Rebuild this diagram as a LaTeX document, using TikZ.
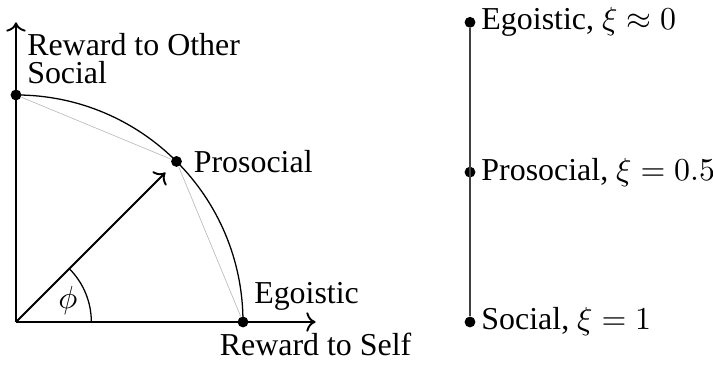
\documentclass[tikz,border=0pt]{standalone}
\usepackage{fontspec}
\setmainfont{Liberation Serif}
\usetikzlibrary{arrows.meta,positioning}

\begin{document}
\begin{tikzpicture}[
node distance=0pt,
dot/.style={circle,fill=black,inner sep=0pt,minimum size=3.4pt},
axis/.style={->,semithick},
chord/.style={gray!55,very thin},
slabel/.style={inner sep=1.5pt}
]
\useasboundingbox (-0.176,-0.485) rectangle (7.676,3.546);
% axes
\coordinate (O) at (0,0);
\coordinate (xend) at (3.3,0);
\coordinate (yend) at (0,3.3);
\draw[axis] (O) -- (xend);
\draw[axis] (O) -- (yend);
\node[below=of xend] (xlab) {Reward to Self};
\node[below right=of yend] (ylab) {Reward to Other};
% points on the quarter circle
\node[dot] (soc) at (90:2.5) {};
\node[dot] (pro) at (45:2.5) {};
\node[dot] (ego) at (0:2.5) {};
\draw[thin] (soc.center) arc (90:0:2.5);
\draw[chord] (soc) -- (pro) -- (ego);
\node[above right=of soc.center] (socLab) {Social};
\node[right=of pro] (proLab) {Prosocial};
\node[above right=of ego.center] (egoLab) {Egoistic};
% direction vector and angle
\draw[->,semithick,shorten >=3pt] (O) -- (pro);
\draw[thin] (0.83,0) arc (0:45:0.83);
\node (phi) at (22.5:0.62) {$\phi$};
% scale on the right
\node[dot] (egoS) at (5,3.3) {};
\node[dot] (proS) at (5,1.65) {};
\node[dot] (socS) at (5,0) {};
\draw[thin,black!75] (egoS) -- (socS);
\node[slabel,right=of egoS] (egoSLab) {Egoistic, $\xi\approx0$};
\node[slabel,right=of proS] (proSLab) {Prosocial, $\xi=0.5$};
\node[slabel,right=of socS] (socSLab) {Social, $\xi=1$};
\end{tikzpicture}
\end{document}
